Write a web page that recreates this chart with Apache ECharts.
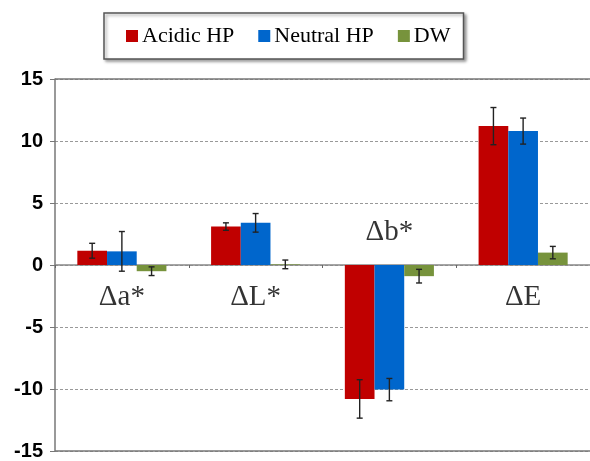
<!DOCTYPE html>
<html>
<head>
<meta charset="utf-8">
<script src="https://cdn.jsdelivr.net/npm/echarts@6/dist/echarts.min.js"></script>
<style>html,body{margin:0;padding:0;background:#fff}#c{width:590px;height:461px}</style>
</head>
<body>
<div id="c"></div>
<script>
const categories = ['Δa*', 'ΔL*', 'Δb*', 'ΔE'];
const seriesNames = ['Acidic HP', 'Neutral HP', 'DW'];
const acidic = [1.15, 3.1, -10.8, 11.2];
const neutral = [1.1, 3.4, -10.05, 10.8];
const dw = [-0.5, 0.05, -0.9, 1.0];
const acidicErr = [0.6, 0.3, 1.55, 1.5];
const neutralErr = [1.6, 0.75, 0.9, 1.05];
const dwErr = [0.35, 0.35, 0.55, 0.5];
const labelY = [-2.6, -2.6, 2.65, -2.6];
const yTicks = [-15, -10, -5, 0, 5, 10, 15];

const colors = ['#C00000', '#0066CC', '#77933C'];
const values = [acidic, neutral, dw];
const errs = [acidicErr, neutralErr, dwErr];
const BARW = 0.222;

const chart = echarts.init(document.getElementById('c'));
const series = [];
values.forEach((v, i) => {
  series.push({
    name: seriesNames[i], type: 'bar', data: v, barWidth: (BARW*100)+'%', barGap: '0%',
    itemStyle: {color: colors[i]}, z: 2,
    markLine: i === 0 ? {
      silent: true, symbol: 'none', label: {show: false},
      lineStyle: {color: '#777', type: 'solid', width: 1.5},
      data: [{yAxis: 15}, {yAxis: -15}]
    } : undefined
  });
});
values.forEach((v, si) => {
  series.push({
    type: 'custom', silent: true, z: 5,
    data: v.map((val, k) => [k, val, errs[si][k]]),
    renderItem: (params, api) => {
      const k = api.value(0), val = api.value(1), e = api.value(2);
      const bw = api.size([1, 0])[0] * BARW;
      const hi = api.coord([k, val + e]);
      const lo = api.coord([k, val - e]);
      const x = hi[0] + (si - 1) * bw;
      const cap = 3;
      const st = {stroke: '#222', lineWidth: 1.4};
      return {type: 'group', children: [
        {type: 'line', shape: {x1: x, y1: hi[1], x2: x, y2: lo[1]}, style: st},
        {type: 'line', shape: {x1: x - cap, y1: hi[1], x2: x + cap, y2: hi[1]}, style: st},
        {type: 'line', shape: {x1: x - cap, y1: lo[1], x2: x + cap, y2: lo[1]}, style: st}
      ]};
    }
  });
});
series.push({
  type: 'scatter', symbolSize: 0, silent: true, z: 6,
  data: categories.map((c, k) => ({name: c, value: [k, labelY[k]]})),
  label: {show: true, position: 'inside', formatter: p => p.name,
    fontFamily: 'Liberation Serif', fontSize: 29, color: '#000'}
});

chart.setOption({
  animation: false,
  backgroundColor: '#fff',
  legend: {
    data: seriesNames, left: 104, top: 13,
    padding: [12, 13, 12, 22], itemGap: 24,
    itemWidth: 12, itemHeight: 12, icon: 'rect',
    borderColor: '#555', borderWidth: 1.5,
    backgroundColor: '#fff',
    shadowColor: 'rgba(0,0,0,0.35)', shadowBlur: 3, shadowOffsetX: 2, shadowOffsetY: 2,
    textStyle: {fontFamily: 'Liberation Serif', fontSize: 22, color: '#000', padding: [0, 0, 0, -1]}
  },
  grid: {left: 55, right: 0, top: 79, bottom: 5},
  xAxis: {
    type: 'category', data: categories,
    axisLine: {onZero: true, lineStyle: {color: '#888', width: 1.5}},
    axisTick: {show: true, length: 3, lineStyle: {color: '#666'}},
    axisLabel: {show: false}
  },
  yAxis: {
    type: 'value', min: -15, max: 15, interval: 5,
    axisLine: {show: true, lineStyle: {color: '#777', width: 1.5}},
    axisTick: {show: true, length: 5, lineStyle: {color: '#777'}},
    axisLabel: {fontFamily: 'Liberation Sans', fontWeight: 'bold', fontSize: 20, color: '#000', margin: 12,
      formatter: v => yTicks.includes(v) ? String(v) : ''},
    splitLine: {show: true, lineStyle: {color: '#999', type: [3, 2], width: 1}}
  },
  series: series
});
</script>
</body>
</html>
